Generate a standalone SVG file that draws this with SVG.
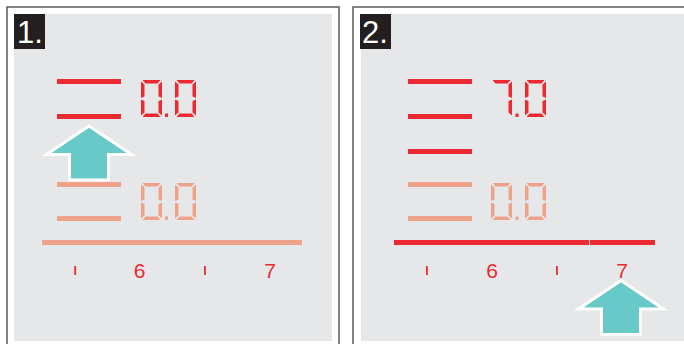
<svg xmlns="http://www.w3.org/2000/svg" xmlns:xlink="http://www.w3.org/1999/xlink" width="684" height="344" viewBox="0 0 684 344">
<style>
.frame{fill:#ffffff;stroke:#5a5a5a;stroke-width:1.5}
.bg{fill:#e6e7e8}
.lab{fill:#231f20}
.labt{fill:#ffffff;font-family:"Liberation Sans",Arial,sans-serif;font-size:31px}
.red{fill:#ed2a31}
.sal{fill:#efa28a}
.num{font-family:"Liberation Sans",Arial,sans-serif;font-size:21px;fill:#ed2a31;text-anchor:middle}
.arrow{fill:#68c9c9;stroke:#ffffff;stroke-width:3;stroke-linejoin:miter;stroke-miterlimit:6}
</style>
<defs>
<g id="d0">
<path d="M1.5,0 L19.5,0 L16.5,3.5 L4.5,3.5 Z"/>
<path d="M0,1.5 L3.5,4.5 L3.5,16.5 L0,18 Z"/>
<path d="M21,1.5 L21,18 L17.5,16.5 L17.5,4.5 Z"/>
<path d="M0,19.5 L3.5,21 L3.5,32.5 L0,35.5 Z"/>
<path d="M21,19.5 L21,35.5 L17.5,32.5 L17.5,21 Z"/>
<path d="M1.5,37 L19.5,37 L16.5,33.5 L4.5,33.5 Z"/>
</g>
<g id="d7">
<path d="M1.5,0 L19.5,0 L16.5,3.5 L4.5,3.5 Z"/>
<path d="M21,1.5 L21,18 L17.5,16.5 L17.5,4.5 Z"/>
<path d="M21,19.5 L21,35.5 L17.5,32.5 L17.5,21 Z"/>
</g>
<rect id="dot" x="0" y="0" width="3" height="3.5"/>
<path id="arr" class="arrow" d="M0,1.5 L42.5,30 L19.5,30 L19.5,55.5 L-19.5,55.5 L-19.5,30 L-42.5,30 Z"/>
</defs>

<g id="panel1">
<rect class="frame" x="7" y="7" width="332" height="345"/>
<rect class="bg" x="14" y="14" width="318" height="327"/>
<g id="label1"><rect class="lab" x="14" y="14" width="31" height="35"/><text class="labt" x="17" y="43">1.</text></g>
<g id="levels1">
<rect class="red" x="57" y="79" width="64" height="5"/>
<rect class="red" x="57" y="114" width="64" height="5"/>
<rect class="sal" x="57" y="182" width="64" height="5"/>
<rect class="sal" x="57" y="216" width="64" height="5"/>
</g>
<g id="display1a" class="red">
<use xlink:href="#d0" x="141" y="80"/><use xlink:href="#dot" x="165" y="113.5"/><use xlink:href="#d0" x="175" y="80"/>
</g>
<g id="display1b" class="sal">
<use xlink:href="#d0" x="141" y="183"/><use xlink:href="#dot" x="165" y="216.5"/><use xlink:href="#d0" x="175" y="183"/>
</g>
<g id="scale1">
<rect class="sal" x="42" y="240" width="260" height="5"/>
<rect class="red" x="74.3" y="266" width="1.8" height="9"/>
<rect class="red" x="204" y="266" width="1.8" height="9"/>
<text class="num" x="139.5" y="278">6</text>
<text class="num" x="270" y="278">7</text>
</g>
<g id="arrow1"><use xlink:href="#arr" x="89" y="124.5"/></g>
</g>

<g id="panel2">
<rect class="frame" x="353" y="7" width="345" height="345"/>
<rect class="bg" x="361" y="14" width="323" height="327"/>
<g id="label2"><rect class="lab" x="360" y="14" width="31" height="35"/><text class="labt" x="362" y="43">2.</text></g>
<g id="levels2">
<rect class="red" x="408" y="79" width="64" height="5"/>
<rect class="red" x="408" y="114" width="64" height="5"/>
<rect class="red" x="408" y="149" width="64" height="5"/>
<rect class="sal" x="408" y="182" width="64" height="5"/>
<rect class="sal" x="408" y="216" width="64" height="5"/>
</g>
<g id="display2a" class="red">
<use xlink:href="#d7" x="491" y="80"/><use xlink:href="#dot" x="515.5" y="113.5"/><use xlink:href="#d0" x="525" y="80"/>
</g>
<g id="display2b" class="sal">
<use xlink:href="#d0" x="491" y="183"/><use xlink:href="#dot" x="515.5" y="216.5"/><use xlink:href="#d0" x="525" y="183"/>
</g>
<g id="scale2">
<rect class="red" x="394" y="240" width="195" height="5"/>
<rect class="red" x="590" y="240" width="65" height="5"/>
<rect class="red" x="426" y="266" width="1.8" height="9"/>
<rect class="red" x="556" y="266" width="1.8" height="9"/>
<text class="num" x="492" y="278">6</text>
<text class="num" x="622" y="278">7</text>
</g>
<g id="arrow2"><use xlink:href="#arr" x="621" y="279"/></g>
</g>
</svg>
